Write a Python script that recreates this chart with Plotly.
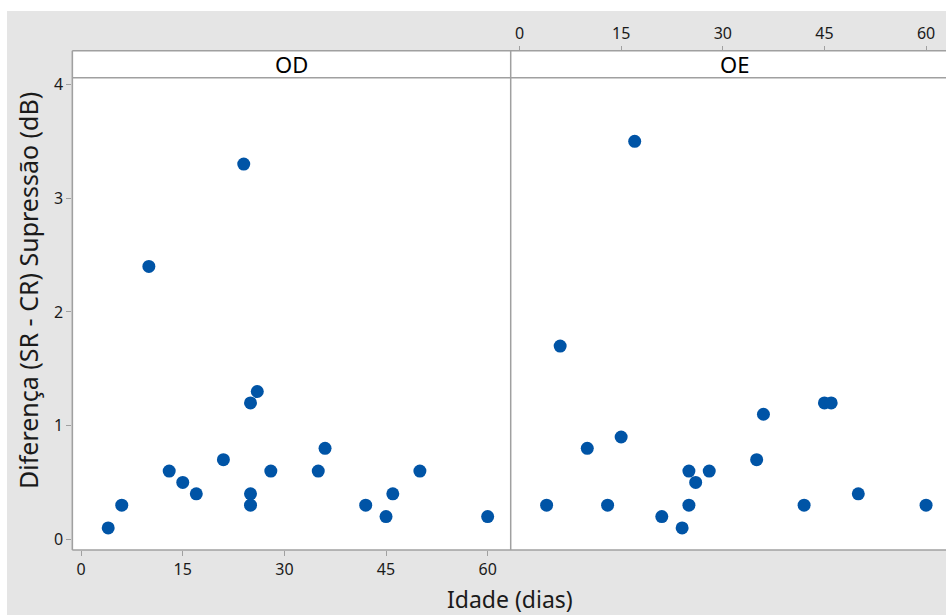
import plotly.graph_objects as go

# Data
od_idade = [4, 6, 10, 13, 15, 17, 21, 24, 25, 25, 25, 26, 28, 35, 36, 42, 45, 46, 50, 60]
od_dif   = [0.1, 0.3, 2.4, 0.6, 0.5, 0.4, 0.7, 3.3, 1.2, 0.4, 0.3, 1.3, 0.6, 0.6, 0.8, 0.3, 0.2, 0.4, 0.6, 0.2]
oe_idade = [4, 6, 10, 13, 15, 17, 21, 24, 25, 25, 26, 28, 35, 36, 42, 45, 46, 50, 60]
oe_dif   = [0.3, 1.7, 0.8, 0.3, 0.9, 3.5, 0.2, 0.1, 0.6, 0.3, 0.5, 0.6, 0.7, 1.1, 0.3, 1.2, 1.2, 0.4, 0.3]
panels = ["OD", "OE"]
x_ticks = [0, 15, 30, 45, 60]
y_ticks = [0, 1, 2, 3, 4]

W, H = 946, 615
def px(x): return x / W
def py(y): return 1 - y / H

FONT = "Noto Sans"
BLUE = "#0054A6"
GRID = "#a0a0a0"
BG = "#e5e5e5"
TXT = "#1a1a1a"

L, MID, R = 72.3, 510.7, 946
TOP_H, BOT_H, BOT = 50.7, 77.7, 550

fig = go.Figure()
fig.add_trace(go.Scatter(x=od_idade, y=od_dif, mode="markers", xaxis="x", yaxis="y",
                         marker=dict(color=BLUE, size=13), showlegend=False, hoverinfo="skip"))
fig.add_trace(go.Scatter(x=oe_idade, y=oe_dif, mode="markers", xaxis="x2", yaxis="y2",
                         marker=dict(color=BLUE, size=13), showlegend=False, hoverinfo="skip"))

axcommon = dict(showgrid=False, zeroline=False, showline=False, ticks="outside",
                ticklen=5, tickcolor=GRID, tickwidth=1, automargin=False,
                tickfont=dict(family=FONT, size=16, color=TXT), fixedrange=True)

xr_left = [-1.3, 63.4]
scale = (MID - L) / (xr_left[1] - xr_left[0])
xr_right = [-1.3, -1.3 + (R - MID) / scale]

fig.update_layout(
    width=W, height=H,
    margin=dict(l=0, r=0, t=0, b=0, pad=0, autoexpand=False),
    paper_bgcolor="white", plot_bgcolor="white",
    xaxis=dict(domain=[px(L), px(MID)], range=xr_left, tickvals=x_ticks, anchor="y", **axcommon),
    yaxis=dict(domain=[py(BOT), py(BOT_H)], range=[-0.094, 4.06], tickvals=y_ticks, anchor="x", **axcommon),
    xaxis2=dict(domain=[px(MID), 1], range=xr_right, tickvals=x_ticks, side="top",
                anchor="free", position=py(TOP_H), **axcommon),
    yaxis2=dict(domain=[py(BOT), py(BOT_H)], range=[-0.094, 4.06], anchor="x2",
                matches="y", showticklabels=False, showgrid=False, zeroline=False,
                showline=False, ticks="", fixedrange=True, automargin=False),
)

shapes = []
# gray frame background in the margins (white border remains at top and left of image)
gray = dict(type="rect", xref="paper", yref="paper", fillcolor=BG, line=dict(width=0), layer="below")
shapes.append(dict(gray, x0=px(7), x1=1, y0=py(TOP_H), y1=py(11)))      # top band
shapes.append(dict(gray, x0=px(7), x1=px(L + 1), y0=0, y1=py(11)))      # left band
shapes.append(dict(gray, x0=px(7), x1=1, y0=0, y1=py(BOT)))             # bottom band
line = dict(color=GRID, width=1.5)
# borders
shapes.append(dict(type="line", xref="paper", yref="paper", x0=px(L), x1=1, y0=py(TOP_H), y1=py(TOP_H), line=line))
shapes.append(dict(type="line", xref="paper", yref="paper", x0=px(L), x1=1, y0=py(BOT_H), y1=py(BOT_H), line=line))
shapes.append(dict(type="line", xref="paper", yref="paper", x0=px(L), x1=1, y0=py(BOT), y1=py(BOT), line=line))
shapes.append(dict(type="line", xref="paper", yref="paper", x0=px(L), x1=px(L), y0=py(BOT), y1=py(TOP_H), line=line))
shapes.append(dict(type="line", xref="paper", yref="paper", x0=px(MID), x1=px(MID), y0=py(BOT), y1=py(TOP_H), line=line))
fig.update_layout(shapes=shapes)

ann = []
ann.append(dict(text=panels[0], xref="paper", yref="paper", x=px((L + MID) / 2), y=py((TOP_H + BOT_H) / 2),
                showarrow=False, font=dict(family=FONT, size=22, color="black"), xanchor="center", yanchor="middle"))
ann.append(dict(text=panels[1], xref="paper", yref="paper", x=px(734), y=py((TOP_H + BOT_H) / 2),
                showarrow=False, font=dict(family=FONT, size=22, color="black"), xanchor="center", yanchor="middle"))
ann.append(dict(text="Idade (dias)", xref="paper", yref="paper", x=px(510), y=py(599),
                showarrow=False, font=dict(family=FONT, size=23, color=TXT), xanchor="center", yanchor="middle"))
ann.append(dict(text="Diferença (SR - CR) Supressão (dB)", xref="paper", yref="paper", x=px(28), y=py(291),
                showarrow=False, textangle=-90, font=dict(family=FONT, size=25, color=TXT),
                xanchor="center", yanchor="middle"))
fig.update_layout(annotations=ann)

fig.write_html("out.html", config={"displayModeBar": False, "staticPlot": True},
               post_script="document.body.style.margin='0';document.body.style.padding='0';")
